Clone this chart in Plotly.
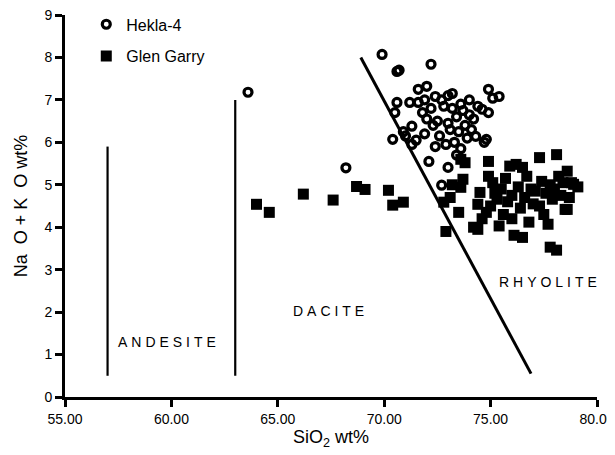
import plotly.graph_objects as go

hekla_x = [63.6, 68.2, 69.9, 70.6, 70.7, 72.2, 72.0, 71.6, 72.4, 70.6, 71.2, 71.6, 70.5, 71.8, 71.3,
           70.4, 71.0, 71.5, 71.9, 72.1, 73.0, 72.7, 74.7, 74.3, 74.8, 74.9, 75.4, 75.1, 74.0, 74.6,
           74.9, 72.5, 72.8, 73.0, 73.2, 73.4, 73.6, 73.8, 74.0, 74.2, 73.1, 72.6, 72.9, 73.3, 73.5,
           73.9, 72.3, 72.2, 73.7, 74.4, 72.7, 73.0, 73.2, 72.4, 72.0, 71.9, 70.9, 71.3, 73.6, 73.4, 74.1]
hekla_y = [7.18, 5.40, 8.07, 7.67, 7.70, 7.84, 7.32, 7.25, 7.08, 6.94, 6.94, 6.94, 6.70, 6.70, 6.38,
           6.07, 6.15, 6.05, 6.20, 5.55, 5.41, 4.99, 6.00, 6.14, 6.07, 7.25, 7.08, 7.04, 7.00, 6.78,
           6.70, 6.50, 6.85, 7.10, 7.15, 6.60, 6.90, 6.40, 6.65, 6.55, 6.30, 6.15, 5.95, 6.00, 6.25,
           6.10, 6.40, 6.80, 6.75, 6.85, 7.00, 6.45, 6.80, 5.90, 6.55, 7.00, 6.25, 5.95, 5.85, 5.70, 6.30]

glen_x = [64.0, 64.6, 66.2, 67.6, 68.7, 69.1, 70.2, 70.4, 70.9, 72.8, 73.1, 72.9, 73.6, 73.5, 74.2,
          73.6, 73.8, 73.7, 74.9, 74.9, 74.5, 74.4, 74.4, 75.3, 75.4, 75.9, 76.2, 76.1, 76.5, 76.5,
          76.7, 76.8, 77.3, 77.4, 77.3, 77.7, 77.9, 77.8, 78.1, 78.1, 78.2, 78.5, 78.6, 78.6, 78.8,
          78.9, 75.0, 75.2, 75.5, 75.8, 75.6, 76.0, 76.3, 76.4, 76.6, 76.9, 77.0, 77.1, 77.6, 77.8,
          78.0, 78.3, 78.4, 74.8, 74.6, 76.0, 77.5, 73.2, 75.1, 75.7, 78.7, 79.1]
glen_y = [4.54, 4.35, 4.78, 4.64, 4.96, 4.89, 4.87, 4.52, 4.59, 4.59, 4.70, 3.90, 4.94, 4.35, 4.00,
          5.60, 5.52, 5.13, 5.55, 5.20, 4.82, 4.54, 3.95, 4.66, 4.03, 5.44, 5.48, 3.81, 3.76, 5.41,
          5.20, 4.12, 5.64, 5.08, 4.50, 4.07, 4.66, 3.53, 5.71, 3.46, 5.20, 4.42, 5.32, 4.42, 5.05,
          5.01, 4.50, 4.80, 4.90, 4.60, 4.30, 4.75, 4.95, 4.45, 4.70, 4.90, 4.55, 4.85, 4.80, 5.00,
          4.90, 4.75, 5.05, 4.35, 4.20, 4.20, 4.30, 5.00, 5.05, 5.15, 4.70, 4.95]

# field boundary lines
andesite_x = [57, 57]
andesite_y = [0.5, 5.9]
dacite_x = [63, 63]
dacite_y = [0.5, 7.0]
rhyolite_x = [68.9, 76.9]
rhyolite_y = [8.0, 0.55]

field_names = ["ANDESITE", "DACITE", "RHYOLITE"]
field_x = [59.8, 67.4, 77.7]
field_y = [1.29, 2.02, 2.7]

x_ticks = [55, 60, 65, 70, 75, 80]
y_ticks = list(range(0, 10))

FONT = "Liberation Sans, Arial, Helvetica, sans-serif"

fig = go.Figure()
for lx, ly, w in [(andesite_x, andesite_y, 2.2), (dacite_x, dacite_y, 2.2), (rhyolite_x, rhyolite_y, 3)]:
    fig.add_trace(go.Scatter(x=lx, y=ly, mode="lines", line=dict(color="black", width=w),
                             showlegend=False, hoverinfo="skip"))

fig.add_trace(go.Scatter(x=hekla_x, y=hekla_y, mode="markers", name="Hekla-4", legendgroup="a",
                         marker=dict(symbol="circle-open", size=8, color="black",
                                     line=dict(width=3.2, color="black"))))
fig.add_trace(go.Scatter(x=glen_x, y=glen_y, mode="markers", name="Glen Garry", legendgroup="b",
                         marker=dict(symbol="square", size=11, color="black")))

for name, tx, ty in zip(field_names, field_x, field_y):
    fig.add_annotation(x=tx, y=ty, text="\u2009\u200a".join(name), showarrow=False,
                       font=dict(family=FONT, size=14, color="black"))

fig.update_layout(
    width=615, height=455,
    margin=dict(l=57, r=26, t=7, b=66, autoexpand=False),
    plot_bgcolor="white", paper_bgcolor="white",
    font=dict(family=FONT, size=14, color="black"),
    showlegend=True,
    legend=dict(x=0.04, y=1.02, xanchor="left", yanchor="top", traceorder="grouped",
                tracegroupgap=8, font=dict(size=16), bgcolor="rgba(0,0,0,0)"),
    xaxis=dict(range=[55, 80], tickvals=x_ticks, tickformat=".2f", showgrid=False, zeroline=False,
               automargin=False, tickfont=dict(size=14), ticklabeloverflow="allow",
               showline=True, linewidth=3, linecolor="black", ticks="outside", ticklen=7,
               tickwidth=3, tickcolor="black",
               title=dict(text="SiO<sub>2</sub> wt%", font=dict(size=18), standoff=5)),
    yaxis=dict(range=[0, 9], tickvals=y_ticks, showgrid=False, zeroline=False,
               automargin=False, tickfont=dict(size=14), ticklabeloverflow="allow",
               showline=True, linewidth=3, linecolor="black", ticks="outside", ticklen=7,
               tickwidth=3, tickcolor="black",
               title=dict(text="Na\u00a0\u00a0O + K\u00a0\u00a0O wt%", font=dict(size=18), standoff=13)),
)

fig.write_html("out.html")
